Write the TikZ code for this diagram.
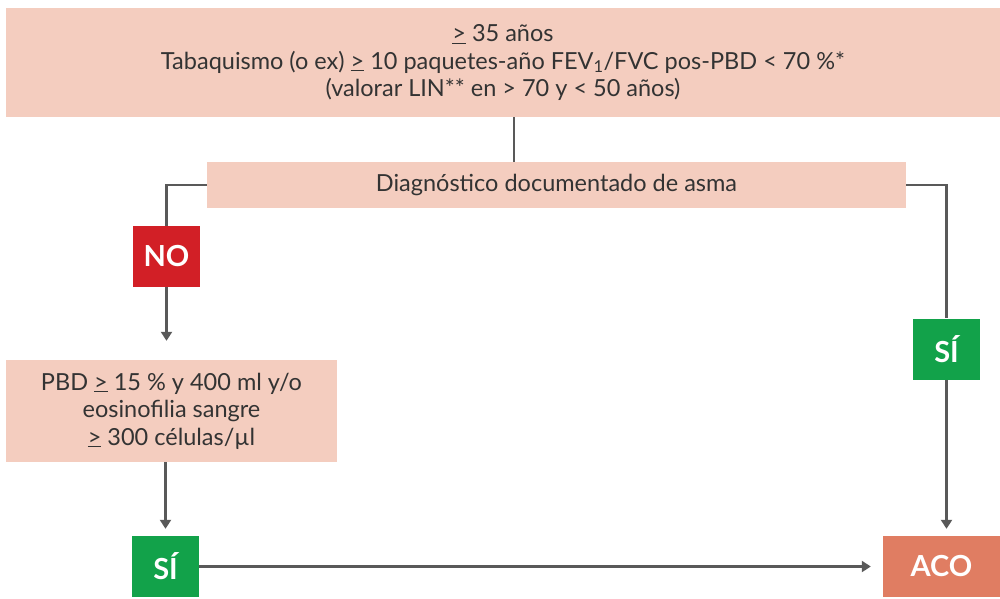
\documentclass[tikz,border=0pt]{standalone}
\usepackage{fontspec}
\setmainfont{Lato}
\usetikzlibrary{arrows.meta,positioning,calc}
\definecolor{peach}{HTML}{F4CDBF}
\definecolor{lineg}{HTML}{595959}
\definecolor{txt}{HTML}{333333}
\definecolor{nored}{HTML}{D21F26}
\definecolor{sigreen}{HTML}{12A24A}
\definecolor{acoc}{HTML}{E07D62}
\tikzset{
  peachbox/.style={fill=peach, draw=none, text=txt, font=\fontsize{23.5}{27.5}\selectfont, align=center, inner sep=0pt},
  tag/.style={draw=none, text=white, font=\fontsize{29}{29}\selectfont\bfseries, inner sep=0pt, minimum width=67pt, minimum height=61pt},
  conn/.style={draw=lineg, line width=2.6pt},
  arr/.style={conn, -{Triangle[length=9pt,width=11pt]}},
}
\newcommand{\ugeq}{\underline{>}}
\begin{document}
\begin{tikzpicture}[x=1pt,y=-1pt]
\useasboundingbox (0,0) rectangle (1000,598);
\node[peachbox, minimum width=994pt, minimum height=109pt] (top) at (503,62.5)
  {\ugeq{} 35 años\\Tabaquismo (o ex) \ugeq{} 10 paquetes-año FEV\textsubscript{1}/FVC pos-PBD < 70 \%*\\(valorar LIN** en > 70 y < 50 años)};
\node[peachbox, minimum width=699pt, minimum height=46pt] (diag) at (556.5,185) {Diagnóstico documentado de asma};
\node[tag, fill=nored] (no) at (166.5,256.5) {NO};
\node[peachbox, minimum width=331pt, minimum height=102pt] (pbd) at (171.5,411) {PBD \ugeq{} 15 \% y 400 ml y/o\\eosinofilia sangre\\\ugeq{} 300 células/µl};
\node[tag, fill=sigreen] (si1) at (165.5,566.5) {SÍ};
\node[tag, fill=sigreen] (si2) at (946.5,349) {SÍ};
\node[tag, fill=acoc, minimum width=117pt] (aco) at (941.5,566.5) {ACO};
\coordinate (tb) at (514,117);
\coordinate (dt) at (514,162);
\draw[conn] (tb) -- (dt);
\draw[conn] (diag.west) -| (no.north);
\draw[arr, shorten >=19pt] (no.south) -- (no.south |- pbd.north);
\draw[arr, shorten >=7pt] (pbd.south -| si1.north) -- (si1.north);
\draw[arr, shorten >=12pt] (si1.east) -- (aco.west);
\draw[conn] (diag.east) -| (si2.north);
\draw[arr, shorten >=7pt] (si2.south) -- (si2.south |- aco.north);
\end{tikzpicture}
\end{document}
